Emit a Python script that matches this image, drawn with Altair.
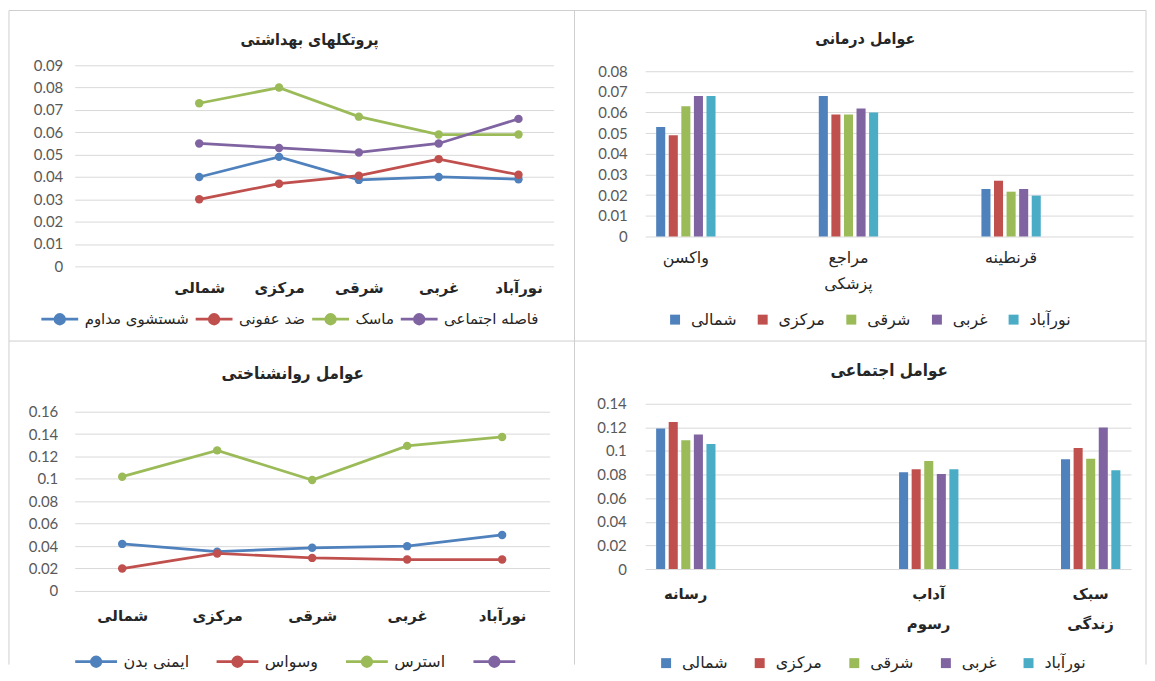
import altair as alt
import pandas as pd

# ---------------- data ----------------
regions = ["شمالی", "مرکزی", "شرقی", "غربی", "نورآباد"]
region_colors = ["#4F81BD", "#C0504D", "#9BBB59", "#8064A2", "#4BACC6"]
line_colors = ["#4F81BD", "#C0504D", "#9BBB59", "#8064A2"]

# top-left: hygiene protocols (lines)
tl_title = "پروتکلهای بهداشتی"
tl_series = ["شستشوی مداوم", "ضد عفونی", "ماسک", "فاصله اجتماعی"]
tl_wash = [0.040, 0.049, 0.0387, 0.040, 0.039]
tl_disinfect = [0.030, 0.037, 0.0406, 0.048, 0.041]
tl_mask = [0.073, 0.080, 0.067, 0.059, 0.059]
tl_distance = [0.055, 0.053, 0.051, 0.055, 0.066]
tl_ticks = [0, 0.01, 0.02, 0.03, 0.04, 0.05, 0.06, 0.07, 0.08, 0.09]

# bottom-left: psychological factors (lines)
bl_title = "عوامل روانشناختی"
bl_series = ["ایمنی بدن", "وسواس", "استرس", " "]
bl_immunity = [0.042, 0.035, 0.0385, 0.040, 0.050]
bl_obsession = [0.020, 0.0335, 0.0295, 0.028, 0.028]
bl_stress = [0.102, 0.1255, 0.099, 0.1295, 0.1375]
bl_ticks = [0, 0.02, 0.04, 0.06, 0.08, 0.1, 0.12, 0.14, 0.16]

# top-right: medical factors (bars)
tr_title = "عوامل درمانی"
tr_categories = ["واکسن", "مراجع پزشکی", "قرنطینه"]
tr_slots = ["واکسن", " ", "مراجع پزشکی", "  ", "قرنطینه", "   "]
tr_vaccine = [0.053, 0.049, 0.063, 0.068, 0.068]
tr_medical = [0.068, 0.059, 0.059, 0.062, 0.060]
tr_quarantine = [0.023, 0.027, 0.0217, 0.023, 0.0198]
tr_ticks = [0, 0.01, 0.02, 0.03, 0.04, 0.05, 0.06, 0.07, 0.08]

# bottom-right: social factors (bars)
br_title = "عوامل اجتماعی"
br_categories = ["رسانه", "آداب رسوم", "سبک زندگی"]
br_slots = ["رسانه", " ", "  ", "آداب رسوم", "   ", "سبک زندگی"]
br_media = [0.119, 0.1245, 0.109, 0.114, 0.106]
br_customs = [0.082, 0.0845, 0.0915, 0.0806, 0.0845]
br_lifestyle = [0.093, 0.1025, 0.0935, 0.120, 0.0837]
br_ticks = [0, 0.02, 0.04, 0.06, 0.08, 0.1, 0.12, 0.14]

# ---------------- style ----------------
FA = "DejaVu Sans"
FA_TITLE = "DejaVu Sans Condensed, DejaVu Sans"
NUM = "Lato"
GRID = "#d9d9d9"
TXT = "#262626"
NUMC = "#595959"
BORDER = "#cfcfcf"


def line_symbol(length, unit, radius):
    # legend symbol: horizontal line with a circle in its middle
    a = 1 - length / unit
    c = 1 - length / (2 * unit)
    r = radius / unit
    return (f"M{a:.3f},0L1,0M{c - r:.3f},0A{r:.3f},{r:.3f},0,1,1,{c + r:.3f},0"
            f"A{r:.3f},{r:.3f},0,1,1,{c - r:.3f},0Z")


def y_axis(ticks, pad):
    return alt.Axis(title=None, values=ticks, format="~g", domain=False, ticks=False,
                    grid=True, gridColor=GRID, gridWidth=1, labelFont=NUM,
                    labelFontSize=15, labelColor=NUMC, labelPadding=pad)


def title_mark(text, tx, ty, size):
    return alt.Chart(pd.DataFrame({"k": [0]})).mark_text(
        font=FA_TITLE, fontSize=size, fontWeight="bold", color=TXT,
        align="center", baseline="middle").encode(
        x=alt.value(tx), y=alt.value(ty), text=alt.value(text))


def line_layers(series, lists, ticks, ymax, xpad, xalign, ypad, xlpad,
                legx, legy, symlen, colpad, lsize):
    rows = []
    for s, vals in zip(series, lists):
        for i, (r, v) in enumerate(zip(regions, vals)):
            rows.append({"region": r, "idx": i, "series": s, "value": v})
    df = pd.DataFrame(rows)
    x = alt.X("region:N",
              scale=alt.Scale(type="point", domain=regions, padding=xpad, align=xalign),
              axis=alt.Axis(title=None, domain=False, ticks=False, grid=False, labelAngle=0,
                            labelFont=FA, labelFontSize=15, labelFontWeight="bold",
                            labelColor=TXT, labelPadding=xlpad))
    y = alt.Y("value:Q", scale=alt.Scale(domain=[0, ymax], nice=False, zero=True),
              axis=y_axis(ticks, ypad))
    sc = alt.Scale(domain=series, range=line_colors)
    leg = alt.Legend(title=None, orient="none", legendX=legx, legendY=legy,
                     direction="horizontal", symbolType=line_symbol(symlen, 7, 4.8),
                     symbolSize=196, symbolStrokeWidth=2.75, symbolOpacity=1,
                     labelFont=FA, labelFontSize=lsize, labelColor=TXT, labelOffset=5,
                     columnPadding=colpad, padding=0, labelLimit=300)
    base = alt.Chart(df)
    lines = base.mark_line(strokeWidth=2.75).encode(
        x=x, y=y, stroke=alt.Stroke("series:N", scale=sc, legend=leg),
        order=alt.Order("idx:Q"))
    pts = base.mark_circle(size=72, opacity=1).encode(
        x=x, y=y, fill=alt.Fill("series:N", scale=sc, legend=leg))
    return lines, pts


def bar_layer(slots, cats, lists, ticks, ymax, ypad, xlpad, lh, lweight, lsize,
              legx, legy, colpad):
    rows = []
    for c, vals in zip(cats, lists):
        for r, v in zip(regions, vals):
            rows.append({"cat": c, "region": r, "value": v})
    df = pd.DataFrame(rows)
    x = alt.X("cat:N", scale=alt.Scale(domain=slots, paddingInner=0.27, paddingOuter=0.135),
              axis=alt.Axis(title=None, domain=False, ticks=False, grid=False, labelAngle=0,
                            labelExpr="split(datum.label, ' ')", labelOverlap=False,
                            labelFont=FA, labelFontSize=lsize, labelFontWeight=lweight,
                            labelColor=TXT, labelPadding=xlpad, labelLineHeight=lh))
    y = alt.Y("value:Q", scale=alt.Scale(domain=[0, ymax], nice=False, zero=True),
              axis=y_axis(ticks, ypad))
    xo = alt.XOffset("region:N", scale=alt.Scale(domain=regions, paddingInner=0.28,
                                                  paddingOuter=0))
    leg = alt.Legend(title=None, orient="none", legendX=legx, legendY=legy,
                     direction="horizontal", symbolType="square", symbolSize=100,
                     symbolStrokeWidth=0, labelFont=FA, labelFontSize=16, labelColor=TXT,
                     labelOffset=8, columnPadding=colpad, padding=0, labelLimit=300)
    return alt.Chart(df).mark_bar().encode(
        x=x, xOffset=xo, y=y,
        color=alt.Color("region:N", scale=alt.Scale(domain=regions, range=region_colors),
                        legend=leg))


# decorative frame of the four panels (relative to the top-left plot area)
def rule(x=None, x2=None, y=None, y2=None):
    enc = {}
    if x is not None:
        enc["x"] = alt.value(x)
    if x2 is not None:
        enc["x2"] = alt.value(x2)
    if y is not None:
        enc["y"] = alt.value(y)
    if y2 is not None:
        enc["y2"] = alt.value(y2)
    return alt.Chart(pd.DataFrame({"k": [0]})).mark_rule(color=BORDER, strokeWidth=1).encode(**enc)


frame = [
    rule(x=-66, y=-55, y2=602),
    rule(x=502, y=-55, y2=602),
    rule(x=1076, y=-55, y2=602),
    rule(x=-66, x2=1076, y=-55),
    rule(x=-66, x2=1076, y=277),
]

tl_lines, tl_pts = line_layers(
    tl_series, [tl_wash, tl_disinfect, tl_mask, tl_distance], tl_ticks, 0.09,
    1.052, 0.78, 12, 14, -12, 246.5, 37, 0, 15)
tl = alt.layer(*frame, tl_lines, tl_pts, title_mark(tl_title, 236, -25, 16)).properties(
    width=481, height=202)

bl_lines, bl_pts = line_layers(
    bl_series, [bl_immunity, bl_obsession, bl_stress], bl_ticks, 0.1671,
    0.5, 0.5, 17, 18, 27, 250.5, 42, 22, 16)
bl = alt.layer(bl_lines, bl_pts, title_mark(bl_title, 219, -30, 17)).properties(
    width=477, height=188)

tr_bars = bar_layer(tr_slots, tr_categories, [tr_vaccine, tr_medical, tr_quarantine],
                    tr_ticks, 0.08289, 18, 13, 26, "normal", 16, 22, 247.5, 18)
tr = alt.layer(tr_bars, title_mark(tr_title, 221, -26, 16)).properties(width=490, height=172)

br_bars = bar_layer(br_slots, br_categories, [br_media, br_customs, br_lifestyle],
                    br_ticks, 0.14, 19, 18, 30, "bold", 15, 13, 252.5, 24)
br = alt.layer(br_bars, title_mark(br_title, 245, -33, 17)).properties(width=488, height=166)

chart = alt.concat(tl, tr, bl, br, columns=2, bounds="flush", align="each",
                   spacing={"row": 138, "column": 92}).resolve_scale(
    color="independent", fill="independent", stroke="independent",
    x="independent", y="independent").resolve_legend(
    color="independent", fill="independent", stroke="independent").properties(
    padding=0, background="white").configure_view(stroke=None)

chart.save("out.html", embed_options={"renderer": "svg", "actions": False})
